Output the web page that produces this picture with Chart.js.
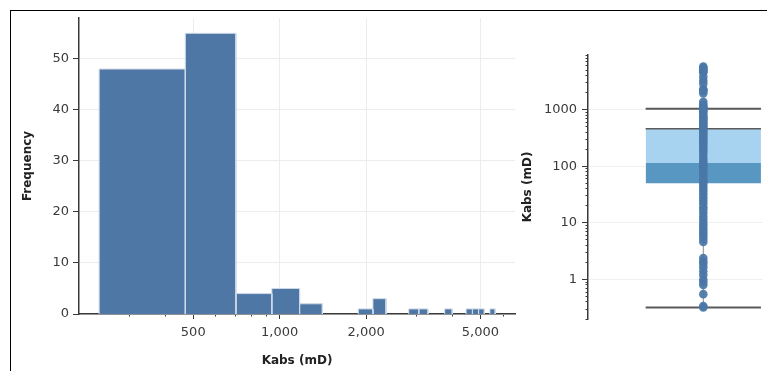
<!DOCTYPE html>
<html>
<head>
<meta charset="utf-8">
<script src="https://cdn.jsdelivr.net/npm/chart.js@4.4.1/dist/chart.umd.min.js"></script>
<style>
  html, body { margin: 0; padding: 0; background: #fff; }
  body { width: 767px; height: 371px; position: relative; overflow: hidden; }
  #frame { position: absolute; left: 10px; top: 10px; width: 800px; height: 400px;
           border-top: 1px solid #000; border-left: 1px solid #000; }
  #hist { position: absolute; left: 0; top: 0; }
  #box { position: absolute; left: 505px; top: 0; }
</style>
</head>
<body>
<div id="frame"></div>
<canvas id="hist" width="530" height="371"></canvas>
<canvas id="box" width="262" height="371"></canvas>
<script>
// Histogram of Kabs: non-empty bins (lower edge, upper edge, count)
const binLow  = [235, 469, 704, 939, 1173, 1877, 2112, 2815, 3050, 3754, 4458, 4692, 4927, 5396];
const binHigh = [469, 704, 939, 1173, 1408, 2112, 2346, 3050, 3285, 3989, 4692, 4927, 5161, 5630];
const binCount = [48, 55, 4, 5, 2, 1, 3, 1, 1, 1, 1, 1, 1, 1];

// Axis ticks
const freqTicks = [0, 10, 20, 30, 40, 50];
const kabsMajorTicks = [500, 1000, 2000, 5000];
const kabsMinorTicks = [300, 400, 600, 700, 800, 900, 3000, 4000, 6000];
const boxMajorTicks = [1, 10, 100, 1000];

// Box plot summary
const whiskerLow = 0.32;
const q1 = 50;
const median = 115;
const q3 = 460;
const whiskerHigh = 1040;

// Individual Kabs samples shown as a strip
const kabsSamples = [
  5800, 5500, 5200, 5000, 4700, 4600, 3850, 3300, 2900, 2300, 2250, 2150, 1950,
  1380, 1250, 1150, 1100, 1050, 1000, 960,
  900, 820, 760, 720,
  690, 650, 610, 570, 540, 500, 480,
  450, 420, 390, 360, 330, 300, 280, 260, 240,
  220, 200, 180, 160, 140, 125, 115, 105, 95, 85, 75, 68, 60, 55, 50, 45,
  40, 36, 32, 28, 25, 22, 19, 17, 15, 13, 11.5, 10, 9, 8, 7.2, 6.5, 5.8, 5.2, 4.6,
  2.4, 2.1, 1.9, 1.65, 1.4, 1.2, 1.0, 0.9, 0.8, 0.55, 0.34, 0.32
];

const FONT = 'DejaVu Sans';
const tickFont = { family: FONT, size: 13 };
const titleFont = { family: FONT, size: 12, weight: 'bold' };
const tickColor = '#3a3a3a';
const axisColor = '#3a3a3a';
const gridColor = '#ececec';

const barFill = '#4e77a6';
const barEdge = '#cfdae8';

// Each bin is outlined as a closed step shape filled down to zero
const histDatasets = binCount.map((c, i) => ({
  data: [
    { x: binLow[i], y: 0 }, { x: binLow[i], y: c },
    { x: binHigh[i], y: c }, { x: binHigh[i], y: 0 }
  ],
  showLine: true,
  fill: 'origin',
  backgroundColor: barFill,
  borderColor: barEdge,
  borderWidth: 1,
  pointRadius: 0,
  tension: 0
}));

new Chart(document.getElementById('hist'), {
  type: 'scatter',
  data: { datasets: histDatasets },
  options: {
    responsive: false,
    animation: false,
    layout: { padding: { top: 18, right: 15, left: 0, bottom: 0 } },
    plugins: { legend: { display: false }, tooltip: { enabled: false } },
    scales: {
      x: {
        type: 'logarithmic',
        min: 200,
        max: 6600,
        afterBuildTicks: s => {
          s.ticks = kabsMinorTicks.concat(kabsMajorTicks).sort((a, b) => a - b).map(v => ({ value: v }));
        },
        afterFit: s => { s.height = 57; },
        ticks: {
          autoSkip: false,
          maxRotation: 0,
          padding: 6,
          color: tickColor,
          font: tickFont,
          callback: v => kabsMajorTicks.includes(v) ? v.toLocaleString('en-US') : ''
        },
        grid: {
          color: c => kabsMajorTicks.includes(c.tick && c.tick.value) ? gridColor : 'rgba(0,0,0,0)',
          tickColor: axisColor,
          tickLength: 5,
          tickBorderDash: c => kabsMajorTicks.includes(c.tick && c.tick.value) ? [] : [2, 20]
        },
        border: { color: axisColor, width: 1.5 },
        title: { display: true, text: 'Kabs (mD)', color: '#222', font: titleFont, padding: { top: 0, bottom: 3 } }
      },
      y: {
        type: 'linear',
        min: 0,
        max: 58,
        afterBuildTicks: s => { s.ticks = freqTicks.map(v => ({ value: v })); },
        afterFit: s => { s.width = 79; },
        ticks: { padding: 4, color: tickColor, font: tickFont },
        grid: { color: gridColor, tickColor: axisColor, tickLength: 6 },
        border: { color: axisColor, width: 1.5 },
        title: { display: true, text: 'Frequency', color: '#222', font: titleFont, padding: { top: 21, bottom: 0 } }
      }
    }
  }
});

// Box plot on a log axis; horizontal placement on a hidden 0..1 axis
const xMid = 0.66, xL = 0.33, xR = 0.99;
const whiskerColor = '#5a5a5a';

const boxMinor = [];
[0.1, 1, 10, 100, 1000].forEach(d => {
  for (let m = 2; m <= 9; m++) boxMinor.push(+(d * m).toPrecision(3));
});

new Chart(document.getElementById('box'), {
  type: 'scatter',
  data: {
    datasets: [
      {
        label: 'samples',
        order: 0,
        data: kabsSamples.map(v => ({ x: xMid, y: v })),
        pointRadius: 4.3,
        pointBackgroundColor: 'rgba(74,119,167,0.92)',
        pointBorderWidth: 0,
        showLine: false
      },
      {
        label: 'stem',
        order: 1,
        data: [{ x: xMid, y: whiskerLow }, { x: xMid, y: whiskerHigh }],
        showLine: true, pointRadius: 0, borderColor: '#8a8a8a', borderWidth: 1
      },
      {
        label: 'upperWhisker',
        order: 2,
        data: [{ x: xL, y: whiskerHigh }, { x: xR, y: whiskerHigh }],
        showLine: true, pointRadius: 0, borderColor: whiskerColor, borderWidth: 2
      },
      {
        label: 'lowerWhisker',
        order: 2,
        data: [{ x: xL, y: whiskerLow }, { x: xR, y: whiskerLow }],
        showLine: true, pointRadius: 0, borderColor: whiskerColor, borderWidth: 2
      },
      {
        label: 'upperBox',
        order: 3,
        data: [{ x: xL, y: q3 }, { x: xR, y: q3 }],
        showLine: true, pointRadius: 0, borderColor: whiskerColor, borderWidth: 1.5,
        fill: { value: median }, backgroundColor: '#a8d3f0'
      },
      {
        label: 'lowerBox',
        order: 3,
        data: [{ x: xL, y: q1 }, { x: xR, y: q1 }],
        showLine: true, pointRadius: 0, borderColor: 'rgba(0,0,0,0)', borderWidth: 0,
        fill: { value: median }, backgroundColor: '#5797c1'
      }
    ]
  },
  options: {
    responsive: false,
    animation: false,
    layout: { padding: { top: 55, right: 0, left: 0, bottom: 52 } },
    plugins: { legend: { display: false }, tooltip: { enabled: false } },
    scales: {
      x: { type: 'linear', min: 0, max: 1, display: false },
      y: {
        type: 'logarithmic',
        min: 0.2,
        max: 9300,
        afterBuildTicks: s => {
          s.ticks = boxMinor.concat(boxMajorTicks).sort((a, b) => a - b).map(v => ({ value: v }));
        },
        afterFit: s => { s.width = 83; },
        ticks: {
          autoSkip: false,
          padding: 5,
          color: tickColor,
          font: tickFont,
          callback: v => boxMajorTicks.includes(v) ? String(v) : ''
        },
        grid: {
          color: c => boxMajorTicks.includes(c.tick && c.tick.value) ? '#f0f0f0' : 'rgba(0,0,0,0)',
          tickColor: axisColor,
          tickLength: 6,
          tickBorderDash: c => boxMajorTicks.includes(c.tick && c.tick.value) ? [] : [0, 3.5, 2.5, 20]
        },
        border: { color: axisColor, width: 1.5 },
        title: { display: true, text: 'Kabs (mD)', color: '#222', font: titleFont, padding: { top: 16, bottom: 0 } }
      }
    }
  }
});
</script>
</body>
</html>
